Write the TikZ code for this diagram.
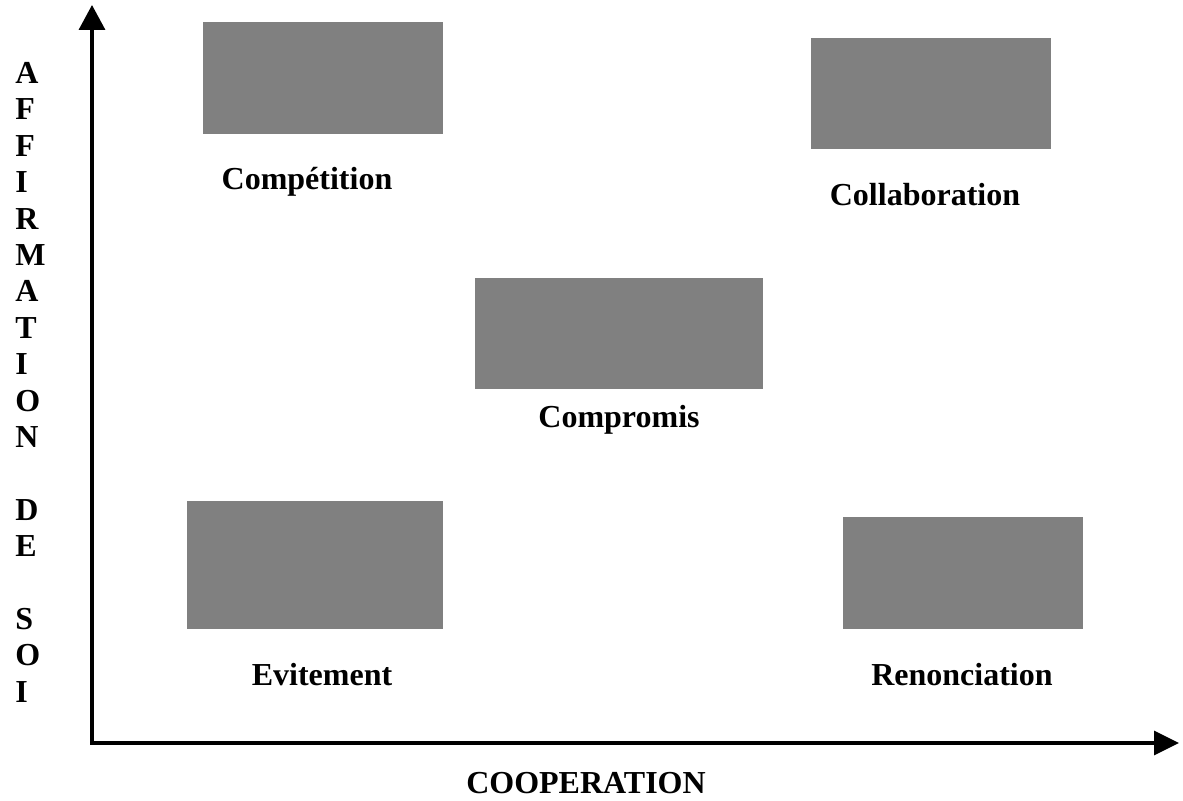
\documentclass[tikz,border=0pt]{standalone}
\usepackage{fontspec}
\setmainfont{Liberation Serif}
\usetikzlibrary{arrows.meta}
\definecolor{boxgrey}{RGB}{128,128,128}
\newcommand{\drawmode}[5]{%
  \fill[boxgrey] #2 rectangle #3;%
  \node[modelabel] (#1) at #4 {#5};%
}

\begin{document}
\begin{tikzpicture}[x=0.5pt,y=-0.5pt,
    modelabel/.style={font=\fontsize{16}{18.2}\selectfont\bfseries, inner sep=0pt},
    axis/.style={line width=1.75pt,
      {Triangle[length=12.5pt,width=13pt]}-{Triangle[length=12.5pt,width=12pt]}}]
  \useasboundingbox (0,0) rectangle (1183,801);
  %
  \coordinate (origin) at (92,743);
  \coordinate (ytip) at (92,5);
  \coordinate (xtip) at (1179,743);
  \draw[axis] (ytip) -- (origin) -- (xtip);
  %
  \drawmode{competition}{(203,22)}{(443,134)}{(307,182)}{Compétition}      % top left
  \drawmode{collaboration}{(811,38)}{(1051,149)}{(925,195)}{Collaboration} % top right
  \drawmode{compromis}{(475,278)}{(763,389)}{(619,420)}{Compromis}         % middle
  \drawmode{evitement}{(187,501)}{(443,629)}{(322,675)}{Evitement}         % bottom left
  \drawmode{renonciation}{(843,517)}{(1083,629)}{(962,675)}{Renonciation}  % bottom right
  %
  \node[modelabel] (cooperation) at (586,783) {COOPERATION};
  \node[modelabel, align=left, anchor=north west] (affirmation) at (15,62)
    {A\\F\\F\\I\\R\\M\\A\\T\\I\\O\\N\\[18.2pt]D\\E\\[18.2pt]S\\O\\I};
\end{tikzpicture}
\end{document}
